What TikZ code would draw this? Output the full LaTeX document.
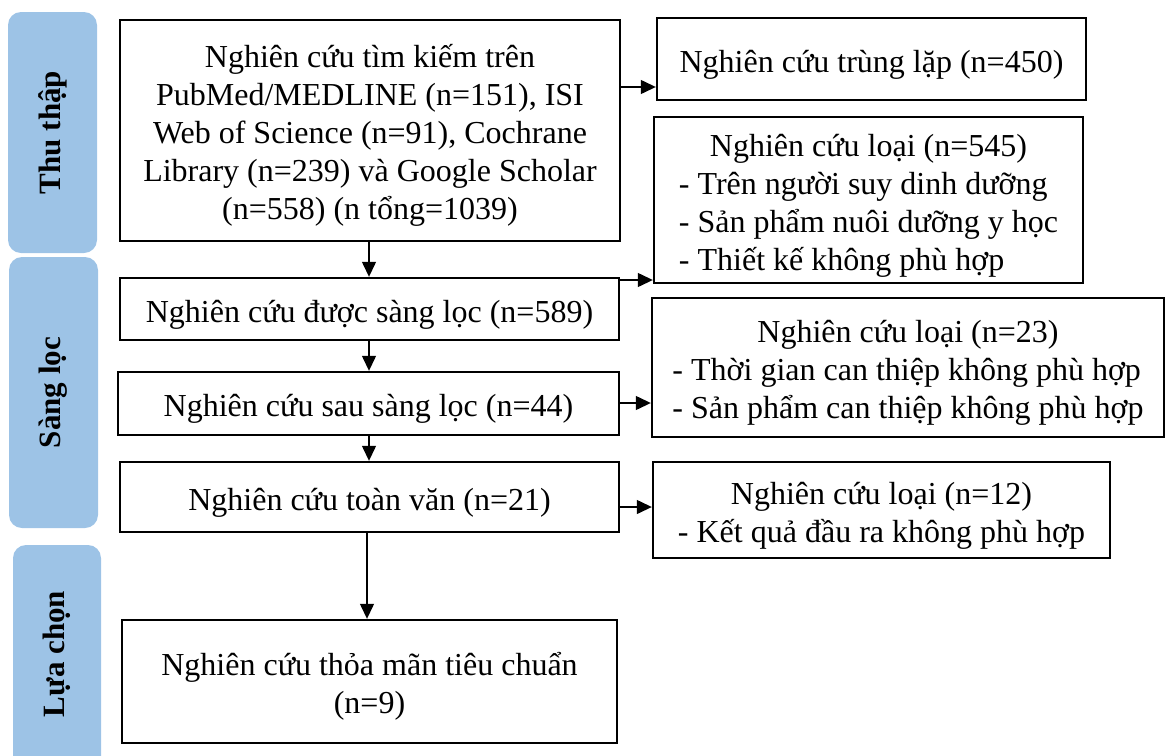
\documentclass[tikz,border=0pt]{standalone}
\usepackage{fontspec}
\setmainfont{Liberation Serif}
\usetikzlibrary{arrows.meta}
\definecolor{sidebar}{RGB}{157,195,230}
\newcommand\ctext[1]{\raisebox{-12pt}[0pt][0pt]{\begin{tabular}{@{}c@{}}#1\end{tabular}}}
\newcommand\ltext[1]{\raisebox{-12pt}[0pt][0pt]{\begin{tabular}{@{}l@{}}#1\end{tabular}}}
\tikzset{
  box/.style={draw=black, line width=2.4pt, fill=white, inner sep=0pt,
    font=\fontsize{32}{38}\selectfont},
  side/.style={fill=sidebar, rounded corners=13pt},
  sidelabel/.style={rotate=90, font=\fontsize{31}{36}\selectfont\bfseries},
  conn/.style={line width=1.3pt, -{Triangle[length=15pt,width=14pt]}}
}
\begin{document}
\begin{tikzpicture}[x=1pt,y=-1pt]
\useasboundingbox (0,0) rectangle (1166,755);
\clip (0,0) rectangle (1166,755);
% side bars
\path[side] (8,12) rectangle (97,253);
\path[side] (9,257) rectangle (98,528);
\path[side] (13,545) rectangle (101,775);
\node[sidelabel] (s1) at (52.5,132.5) {Thu thập};
\node[sidelabel] (s2) at (53.5,392.5) {Sàng lọc};
\node[sidelabel] (s3) at (57,654) {Lựa chọn};
% main boxes
\node[box, minimum width=500pt, minimum height=221pt] (A) at (370,130.5)
  {\ctext{Nghiên cứu tìm kiếm trên\\PubMed/MEDLINE (n=151), ISI\\Web of Science (n=91), Cochrane\\Library (n=239) và Google Scholar\\(n=558) (n tổng=1039)}};
\node[box, minimum width=499pt, minimum height=62pt] (B) at (369.5,309)
  {\ctext{Nghiên cứu được sàng lọc (n=589)}};
\node[box, minimum width=501pt, minimum height=63pt] (C) at (368.5,403.5)
  {\ctext{Nghiên cứu sau sàng lọc (n=44)}};
\node[box, minimum width=499pt, minimum height=70pt] (D) at (369.5,497)
  {\ctext{Nghiên cứu toàn văn (n=21)}};
\node[box, minimum width=495pt, minimum height=123pt] (E) at (369.5,681.5)
  {\ctext{Nghiên cứu thỏa mãn tiêu chuẩn\\(n=9)}};
% right boxes
\node[box, minimum width=429pt, minimum height=82pt] (dup) at (871.5,59)
  {\ctext{Nghiên cứu trùng lặp (n=450)}};
\node[box, minimum width=429pt, minimum height=166pt] (ex1) at (868.5,200)
  {\ltext{\multicolumn{1}{@{}c@{}}{Nghiên cứu loại (n=545)}\\- Trên người suy dinh dưỡng\\- Sản phẩm nuôi dưỡng y học\\- Thiết kế không phù hợp}};
\node[box, minimum width=512pt, minimum height=139pt] (ex2) at (908,367.5)
  {\ltext{\multicolumn{1}{@{}c@{}}{Nghiên cứu loại (n=23)}\\- Thời gian can thiệp không phù hợp\\- Sản phẩm can thiệp không phù hợp}};
\node[box, minimum width=457pt, minimum height=96pt] (ex3) at (881.5,510)
  {\ltext{\multicolumn{1}{@{}c@{}}{Nghiên cứu loại (n=12)}\\- Kết quả đầu ra không phù hợp}};
% vertical connectors
\draw[conn] (A.south -| 369,0) -- (B.north -| 369,0);
\draw[conn] (B.south -| 369,0) -- (C.north -| 369,0);
\draw[conn] (C.south -| 369,0) -- (D.north -| 369,0);
\draw[conn] (D.south -| 367,0) -- (E.north -| 367,0);
% horizontal connectors
\draw[conn] (A.east |- 0,87) -- (dup.west |- 0,87);
\draw[conn] (B.east |- 0,280) -- (ex1.west |- 0,280);
\draw[conn] (C.east |- 0,403) -- (ex2.west |- 0,403);
\draw[conn] (D.east |- 0,507) -- (ex3.west |- 0,507);
\end{tikzpicture}
\end{document}
